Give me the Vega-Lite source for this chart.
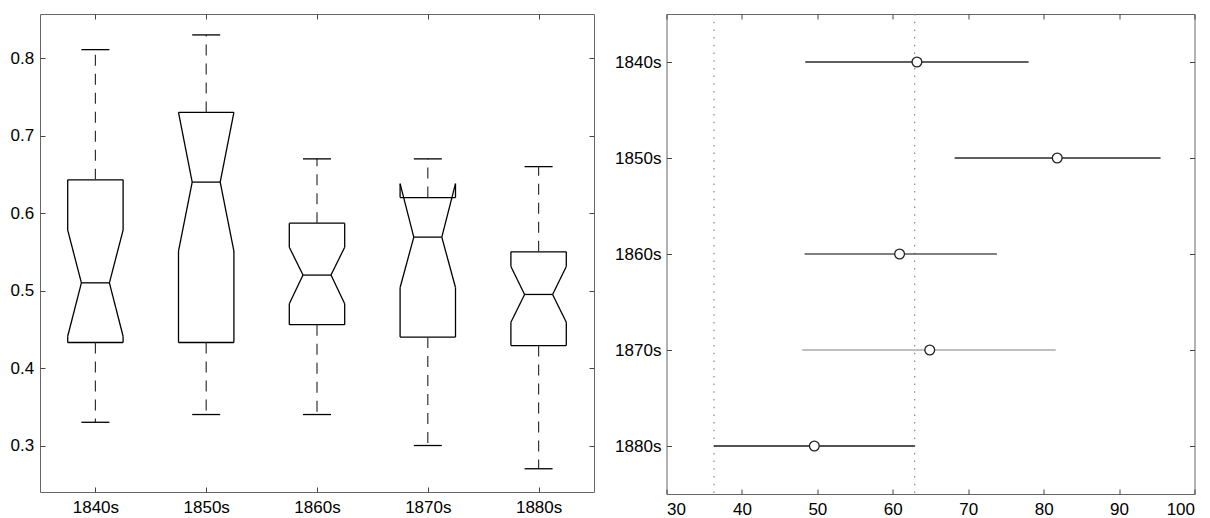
{
  "$schema": "https://vega.github.io/schema/vega-lite/v6.json",
  "padding": {"left": 5, "top": 12, "right": 0, "bottom": 0},
  "background": "white",
  "config": {
    "view": {"stroke": "#666", "strokeWidth": 1},
    "font": "Liberation Sans",
    "axis": {"labelFont": "Liberation Sans", "labelFontSize": 17, "labelColor": "#000", "tickColor": "#444", "tickWidth": 1, "domain": false, "grid": false, "title": null}
  },
  "datasets": {
    "boxes": [
      {"decade": "1840s", "lw": 0.330, "q1": 0.433, "nlo": 0.441, "med": 0.510, "nhi": 0.578, "q3": 0.643, "uw": 0.811},
      {"decade": "1850s", "lw": 0.340, "q1": 0.433, "nlo": 0.551, "med": 0.640, "nhi": 0.730, "q3": 0.730, "uw": 0.830},
      {"decade": "1860s", "lw": 0.340, "q1": 0.456, "nlo": 0.483, "med": 0.520, "nhi": 0.556, "q3": 0.587, "uw": 0.670},
      {"decade": "1870s", "lw": 0.300, "q1": 0.440, "nlo": 0.504, "med": 0.569, "nhi": 0.638, "q3": 0.620, "uw": 0.670},
      {"decade": "1880s", "lw": 0.270, "q1": 0.429, "nlo": 0.459, "med": 0.495, "nhi": 0.531, "q3": 0.550, "uw": 0.660}
    ],
    "ci": [
      {"decade": "1840s", "lo": 48.4, "mean": 63.2, "hi": 78.0},
      {"decade": "1850s", "lo": 68.2, "mean": 81.8, "hi": 95.5},
      {"decade": "1860s", "lo": 48.3, "mean": 60.9, "hi": 73.8},
      {"decade": "1870s", "lo": 48.0, "mean": 64.9, "hi": 81.6},
      {"decade": "1880s", "lo": 36.3, "mean": 49.6, "hi": 62.9}
    ]
  },
  "spacing": 15.5,
  "hconcat": [
    {
      "width": 554,
      "height": 478,
      "data": {"name": "boxes"},
      "resolve": {"axis": {"x": "independent", "y": "independent"}},
      "layer": [
        {
          "mark": {"type": "rule", "color": "#000", "strokeWidth": 1.3, "xOffset": -27.7, "x2Offset": 27.7},
          "encoding": {
            "x": {"field": "decade", "type": "nominal", "scale": {"type": "point", "padding": 0.5}, "axis": {"orient": "bottom", "tickSize": -5, "labelPadding": 12, "labelAngle": 0}},
            "x2": {"field": "decade"},
            "y": {"field": "q3", "type": "quantitative", "scale": {"domain": [0.24, 0.857], "nice": false, "zero": false}, "axis": {"orient": "left", "tickSize": -5, "labelPadding": 11.3, "values": [0.3, 0.4, 0.5, 0.6, 0.7, 0.8], "format": ".1f", "minExtent": 34.5, "maxExtent": 34.5}}
          }
        },
        {
          "mark": {"type": "rule", "color": "#000", "strokeWidth": 1.3, "xOffset": -27.7, "x2Offset": 27.7},
          "encoding": {
            "x": {"field": "decade", "type": "nominal", "axis": {"orient": "top", "tickSize": -5, "labels": false, "minExtent": 0, "maxExtent": 0}},
            "x2": {"field": "decade"},
            "y": {"field": "q1", "type": "quantitative", "axis": {"orient": "right", "tickSize": -5, "labels": false, "values": [0.3, 0.4, 0.5, 0.6, 0.7, 0.8], "minExtent": 0, "maxExtent": 0}}
          }
        },
        {
          "mark": {"type": "rule", "color": "#000", "strokeWidth": 1.3, "xOffset": -27.7},
          "encoding": {"x": {"field": "decade", "type": "nominal", "axis": null}, "y": {"field": "q1", "type": "quantitative", "axis": null}, "y2": {"field": "nlo"}}
        },
        {
          "mark": {"type": "rule", "color": "#000", "strokeWidth": 1.3, "xOffset": 27.7},
          "encoding": {"x": {"field": "decade", "type": "nominal", "axis": null}, "y": {"field": "q1", "type": "quantitative", "axis": null}, "y2": {"field": "nlo"}}
        },
        {
          "mark": {"type": "rule", "color": "#000", "strokeWidth": 1.3, "xOffset": -27.7, "x2Offset": -14},
          "encoding": {"x": {"field": "decade", "type": "nominal", "axis": null}, "x2": {"field": "decade"}, "y": {"field": "nlo", "type": "quantitative", "axis": null}, "y2": {"field": "med"}}
        },
        {
          "mark": {"type": "rule", "color": "#000", "strokeWidth": 1.3, "xOffset": 27.7, "x2Offset": 14},
          "encoding": {"x": {"field": "decade", "type": "nominal", "axis": null}, "x2": {"field": "decade"}, "y": {"field": "nlo", "type": "quantitative", "axis": null}, "y2": {"field": "med"}}
        },
        {
          "mark": {"type": "rule", "color": "#000", "strokeWidth": 1.3, "xOffset": -14, "x2Offset": -27.7},
          "encoding": {"x": {"field": "decade", "type": "nominal", "axis": null}, "x2": {"field": "decade"}, "y": {"field": "med", "type": "quantitative", "axis": null}, "y2": {"field": "nhi"}}
        },
        {
          "mark": {"type": "rule", "color": "#000", "strokeWidth": 1.3, "xOffset": 14, "x2Offset": 27.7},
          "encoding": {"x": {"field": "decade", "type": "nominal", "axis": null}, "x2": {"field": "decade"}, "y": {"field": "med", "type": "quantitative", "axis": null}, "y2": {"field": "nhi"}}
        },
        {
          "mark": {"type": "rule", "color": "#000", "strokeWidth": 1.3, "xOffset": -27.7},
          "encoding": {"x": {"field": "decade", "type": "nominal", "axis": null}, "y": {"field": "nhi", "type": "quantitative", "axis": null}, "y2": {"field": "q3"}}
        },
        {
          "mark": {"type": "rule", "color": "#000", "strokeWidth": 1.3, "xOffset": 27.7},
          "encoding": {"x": {"field": "decade", "type": "nominal", "axis": null}, "y": {"field": "nhi", "type": "quantitative", "axis": null}, "y2": {"field": "q3"}}
        },
        {
          "mark": {"type": "rule", "color": "#000", "strokeWidth": 1.3, "xOffset": -14, "x2Offset": 14},
          "encoding": {"x": {"field": "decade", "type": "nominal", "axis": null}, "x2": {"field": "decade"}, "y": {"field": "med", "type": "quantitative", "axis": null}}
        },
        {
          "mark": {"type": "rule", "color": "#333", "strokeWidth": 1.2, "strokeDash": [11, 8]},
          "encoding": {"x": {"field": "decade", "type": "nominal", "axis": null}, "y": {"field": "q3", "type": "quantitative", "axis": null}, "y2": {"field": "uw"}}
        },
        {
          "mark": {"type": "rule", "color": "#333", "strokeWidth": 1.2, "strokeDash": [11, 8]},
          "encoding": {"x": {"field": "decade", "type": "nominal", "axis": null}, "y": {"field": "q1", "type": "quantitative", "axis": null}, "y2": {"field": "lw"}}
        },
        {
          "mark": {"type": "rule", "color": "#000", "strokeWidth": 1.3, "xOffset": -14, "x2Offset": 14},
          "encoding": {"x": {"field": "decade", "type": "nominal", "axis": null}, "x2": {"field": "decade"}, "y": {"field": "uw", "type": "quantitative", "axis": null}}
        },
        {
          "mark": {"type": "rule", "color": "#000", "strokeWidth": 1.3, "xOffset": -14, "x2Offset": 14},
          "encoding": {"x": {"field": "decade", "type": "nominal", "axis": null}, "x2": {"field": "decade"}, "y": {"field": "lw", "type": "quantitative", "axis": null}}
        }
      ]
    },
    {
      "width": 528,
      "height": 480,
      "data": {"name": "ci"},
      "resolve": {"axis": {"x": "independent", "y": "independent"}},
      "layer": [
        {
          "transform": [{"filter": "datum.decade == '1880s'"}],
          "mark": {"type": "rule", "color": "#888", "strokeWidth": 1.2, "strokeDash": [1.5, 6.2]},
          "encoding": {"x": {"field": "lo", "type": "quantitative", "axis": null}}
        },
        {
          "transform": [{"filter": "datum.decade == '1880s'"}],
          "mark": {"type": "rule", "color": "#888", "strokeWidth": 1.2, "strokeDash": [1.5, 6.2]},
          "encoding": {"x": {"field": "hi", "type": "quantitative", "axis": null}}
        },
        {
          "mark": {"type": "rule", "strokeWidth": 1.5},
          "encoding": {
            "x": {"field": "lo", "type": "quantitative", "scale": {"domain": [30, 100], "nice": false, "zero": false}, "axis": {"orient": "bottom", "tickSize": -5, "labelPadding": 12, "values": [30, 40, 50, 60, 70, 80, 90, 100]}},
            "x2": {"field": "hi"},
            "y": {"field": "decade", "type": "nominal", "scale": {"type": "point", "padding": 0.5}, "axis": {"orient": "left", "tickSize": -5, "labelPadding": 10.6, "minExtent": 55, "maxExtent": 55}},
            "color": {"field": "decade", "type": "nominal", "scale": {"domain": ["1840s", "1850s", "1860s", "1870s", "1880s"], "range": ["#2a2a2a", "#2a2a2a", "#555555", "#aaaaaa", "#1a1a1a"]}, "legend": null}
          }
        },
        {
          "mark": {"type": "circle", "fill": "white", "stroke": "#222", "strokeWidth": 1.3, "size": 95, "opacity": 1},
          "encoding": {
            "x": {"field": "mean", "type": "quantitative", "axis": {"orient": "top", "tickSize": -5, "labels": false, "values": [30, 40, 50, 60, 70, 80, 90, 100], "minExtent": 0, "maxExtent": 0}},
            "y": {"field": "decade", "type": "nominal", "axis": {"orient": "right", "tickSize": -5, "labels": false, "minExtent": 0, "maxExtent": 0}}
          }
        }
      ]
    }
  ]
}
